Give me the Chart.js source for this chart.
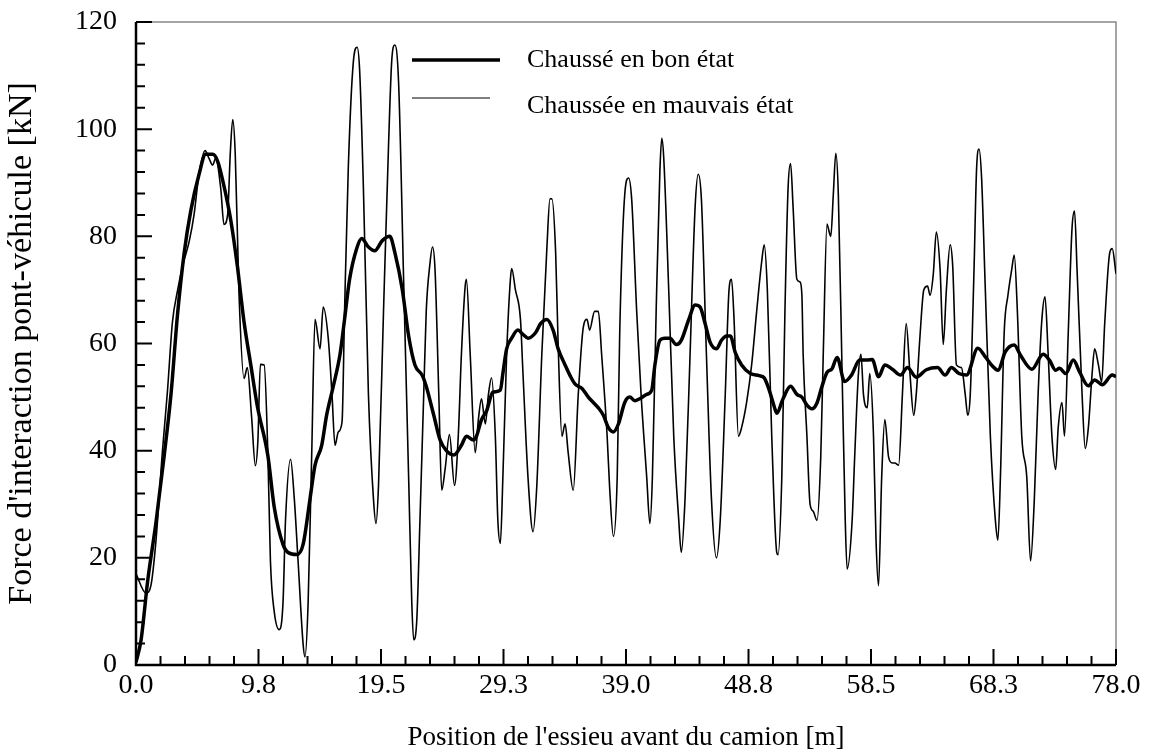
<!DOCTYPE html>
<html>
<head>
  <title>Force d'interaction pont-véhicule</title>
  <meta charset="utf-8">
  <script src="https://cdn.jsdelivr.net/npm/chart.js@4.4.1/dist/chart.umd.min.js"></script>
  <style>
    body { margin: 0; background: #fff; }
    #wrap { width: 1151px; height: 756px; }
  </style>
</head>
<body>
  <div id="wrap"><canvas id="force-chart" width="1151" height="756"></canvas></div>

  <script>
    // Chaussé en bon état (thick line)
    const goodX = [0, 0.4, 0.93, 1.6, 2.25, 2.8, 3.3, 3.84, 4.37, 5.0, 5.55, 6.1, 6.5, 7.0, 7.55, 8.07, 8.6, 9.13, 9.66,
      10.5, 11.0, 11.7, 12.1, 12.8, 13.3, 13.85, 14.25, 14.78, 15.17, 15.7, 16.24, 16.6, 17.0, 17.56, 17.96, 18.5, 19.0, 19.6,
      20.2, 20.6, 21.2, 21.7, 22.2, 22.8, 23.1, 23.7, 24.2, 24.7, 25.3, 25.9, 26.3, 26.85, 27.1, 27.5, 27.9, 28.4, 29.0, 29.2,
      29.5, 29.9, 30.4, 30.8, 31.2, 31.8, 32.2, 32.7, 33.2, 33.6, 34.15, 34.55, 34.95, 35.5, 36.0, 36.4, 36.8, 37.2, 37.6, 38.0,
      38.4, 38.9, 39.3, 39.7, 40.1, 40.65, 41.05, 41.3, 41.7, 42.1, 42.5, 43.0, 43.4, 44.0, 44.5, 44.9, 45.3, 45.7, 46.2, 46.6,
      47.0, 47.3, 47.7, 48.2, 48.9, 49.6, 50.0, 50.4, 50.8, 51.0, 51.5, 52.1, 52.6, 53.0, 53.4, 53.8, 54.2, 54.6, 55.0, 55.4,
      55.8, 56.4, 56.95, 57.6, 58.2, 58.6, 59.1, 59.6, 60.2, 60.85, 61.4, 62.1, 62.9, 63.8, 64.4, 64.9, 65.5, 66.1, 67.0, 67.6,
      68.2, 68.6, 69.2, 69.9, 70.4, 71.3, 72.2, 72.7, 73.2, 73.5, 74.0, 74.6, 75.1, 75.8, 76.3, 76.9, 77.7, 78.0];
    const goodY = [0.5, 4.6, 15.7, 26.8, 39.2, 50.9, 65.3, 77, 84.9, 91.4, 95.3, 95.3, 94, 89.4, 82.9, 74.4, 64, 56.1, 48.3,
      39, 29.5, 22.5, 21, 20.6, 22.5, 31, 37.3, 41, 46.6, 52, 58, 64.5, 72, 77.7, 79.6, 78, 77.3, 79.2,
      80, 77, 70, 61.4, 56, 54, 52, 46.6, 42, 40, 39.2, 41, 42.7, 42, 42.7, 45.8, 47.4, 50.9, 51.3, 54.4,
      59, 61, 62.5, 61.7, 61, 62, 63.7, 64.5, 62.5, 59, 56, 54, 52.4, 51.6, 50, 49, 48, 46.6, 44.3, 43.5,
      45, 49, 50, 49.3, 49.7, 50.5, 51.3, 56, 60.6, 61, 61, 59.8, 60.6, 64.5, 67.2, 66.8, 63.7, 60.2, 59, 60.6,
      61.4, 61.4, 58.3, 56, 54.4, 54, 53.6, 51.3, 48.2, 47, 49.7, 52, 50.5, 50, 48.5, 47.8, 48.9, 52, 54.6, 55.3,
      57.4, 52.9, 54.1, 56.9, 56.9, 57, 53.8, 56, 55.2, 54.1, 55.5, 53.7, 55.1, 55.5, 54.1, 55.5, 54.4, 54.1, 59.1, 57.5,
      55.7, 55, 58.5, 59.7, 57.8, 55.2, 58, 56.9, 55, 55.4, 54.4, 56.9, 54.7, 52.1, 53.2, 52.3, 54.1, 53.8];

    // Chaussée en mauvais état (thin line)
    const badX = [0, 0.8, 1.2, 1.6, 2.1, 2.5, 2.9, 3.3, 3.7, 4.23, 4.63, 5.0, 5.5, 5.8, 6.1, 6.35, 6.75, 7.0, 7.3, 7.5, 7.7,
      7.9, 8.2, 8.6, 8.86, 9.2, 9.5, 9.7, 9.9, 10.2, 10.5, 10.7, 11.0, 11.4, 11.7, 11.9, 12.3, 12.6, 12.9, 13.3, 13.45, 13.7,
      13.98, 14.25, 14.65, 14.9, 15.3, 15.6, 15.84, 16.1, 16.4, 16.6, 16.9, 17.3, 17.6, 17.8, 18.1, 18.5, 18.9, 19.1, 19.3,
      19.7, 20.1, 20.35, 20.6, 20.9, 21.3, 21.7, 21.95, 22.1, 22.35, 22.6, 22.9, 23.1, 23.4, 23.6, 23.8, 24.1, 24.33, 24.6,
      24.95, 25.35, 25.65, 25.9, 26.2, 26.3, 26.6, 27.0, 27.25, 27.5, 27.8, 28.05, 28.3, 28.6, 28.8, 29.0, 29.2, 29.5, 29.8,
      29.9, 30.2, 30.6, 30.8, 31.2, 31.6, 31.9, 32.3, 32.7, 32.95, 33.1, 33.4, 33.6, 33.9, 34.15, 34.4, 34.8, 35.2, 35.6,
      35.9, 36.1, 36.5, 36.8, 37.06, 37.5, 37.7, 38.0, 38.3, 38.5, 38.9, 39.2, 39.45, 39.85, 40.2, 40.65, 40.9, 41.1, 41.4,
      41.7, 41.85, 42.0, 42.4, 42.8, 43.2, 43.4, 43.7, 44.1, 44.5, 44.75, 45.0, 45.4, 45.8, 46.2, 46.5, 46.9, 47.2, 47.4,
      47.6, 47.95, 48.2, 48.6, 49.0, 49.4, 49.8, 50.0, 50.25, 50.6, 51.0, 51.1, 51.4, 51.65, 51.9, 52.1, 52.3, 52.6, 52.85,
      53.0, 53.1, 53.4, 53.65, 53.9, 54.2, 54.5, 54.7, 55.0, 55.1, 55.3, 55.5, 55.7, 55.9, 56.2, 56.45, 56.6, 57.0, 57.2,
      57.5, 57.7, 57.9, 58.2, 58.4, 58.7, 58.9, 59.1, 59.35, 59.6, 59.9, 60.2, 60.4, 60.7, 61.0, 61.3, 61.6, 61.9, 62.1,
      62.4, 62.7, 63.0, 63.2, 63.46, 63.7, 64.0, 64.25, 64.5, 64.8, 65.0, 65.3, 65.7, 66.0, 66.2, 66.4, 66.7, 66.9, 67.1,
      67.3, 67.6, 68.0, 68.4, 68.6, 68.8, 69.1, 69.4, 69.7, 69.9, 70.15, 70.5, 70.9, 71.2, 71.5, 71.8, 72.1, 72.35, 72.6,
      72.9, 73.2, 73.4, 73.7, 73.9, 74.2, 74.5, 74.7, 74.9, 75.3, 75.55, 75.8, 76.1, 76.3, 76.6, 76.86, 77.1, 77.5, 77.7, 78.0];
    const badY = [17, 13.4, 15, 23.5, 39.8, 51, 64, 69.8, 74.4, 79, 84.2, 91.4, 96, 94.6, 93.3, 94.6, 88.8, 82.2, 84.2, 95.3, 101.8,
      95.3, 69.2, 53.5, 55.5, 46.3, 37.2, 41.8, 56.1, 56, 39, 19.4, 10, 6.6, 11.6, 27, 38.4, 31, 19.4, 3.9, 1.5, 11.6,
      38.8, 64.5, 59, 66.8, 61, 50.5, 41, 43.5, 45.4, 66, 93, 112.6, 115.3, 111, 89, 50.5, 31, 26.4, 33.4,
      66, 97, 112.6, 115.7, 108.7, 72, 35, 11.6, 4.7, 8.5, 27, 50.5, 66, 75, 78, 73.8, 50.5, 32.6, 36.5,
      43, 33.5, 42.7, 58, 70.7, 72, 58, 39.6, 45.8, 49.7, 45, 50.5, 53.6, 42.7, 27, 22.7, 35, 58, 72,
      74, 70, 64.5, 54.4, 35, 24.9, 33.4, 58, 77.7, 87, 87, 77, 59.8, 42.7, 45, 39.6, 32.6, 50.5, 63,
      64.5, 62.5, 66, 66, 58, 42.7, 33, 24, 35, 62, 87.8, 90.9, 87, 66, 50.5, 35, 26.4, 35, 66,
      92.4, 98.3, 94.8, 70, 42.7, 27, 21, 31, 58, 85.4, 91.6, 87, 58, 31, 20, 27, 50.5, 70, 72,
      64.5, 42.7, 44.3, 49, 56, 66, 75.3, 78.4, 70, 42.7, 21, 20.6, 35, 66, 89, 93.6, 85.4, 72, 71.5,
      69, 58, 42.7, 30, 28.7, 27, 38.8, 58, 82.3, 81.5, 80, 87.8, 95.5, 87.8, 54.4, 27, 17.9, 27, 38.8,
      54.4, 58, 50.5, 48, 54.4, 42.7, 23.3, 14.8, 35, 45.8, 38.8, 37.7, 37.7, 37.3, 50.5, 63.7, 54.4, 46.6, 50.5,
      61.4, 70, 70.7, 69, 73, 80.8, 73.8, 59.8, 70, 78.4, 74.6, 56, 55.5, 50.5, 46.6, 50.5, 73.8, 92.4, 96.3,
      91, 70, 42.7, 27, 23.3, 35, 62, 69, 73.8, 76.5, 66, 42.7, 35, 19.4, 31, 50.5, 64.5, 68.7, 58,
      42.7, 36.5, 44.3, 49, 42.7, 62, 81.5, 84.7, 73.8, 50.5, 40.4, 44.3, 54.4, 59, 56, 52.8, 63.7, 76.9, 77.7, 73];

    const xTickValues = [0, 9.75, 19.5, 29.25, 39, 48.75, 58.5, 68.25, 78];
    const xTickLabels = ['0.0', '9.8', '19.5', '29.3', '39.0', '48.8', '58.5', '68.3', '78.0'];
    const xMinorStep = 1.95;
    const yMajorStep = 20;
    const yMinorStep = 4;

    const serif = "'Liberation Serif', 'Times New Roman', serif";

    // inward tick marks, frame and legend drawn on the canvas
    const framePlugin = {
      id: 'frame',
      beforeDatasetsDraw(chart) {
        const ctx = chart.ctx;
        const a = chart.chartArea;
        const xs = chart.scales.x;
        const ys = chart.scales.y;
        ctx.save();
        ctx.strokeStyle = '#888';
        ctx.lineWidth = 1.5;
        ctx.beginPath();
        ctx.moveTo(a.left, a.top); ctx.lineTo(a.right, a.top); ctx.lineTo(a.right, a.bottom);
        ctx.stroke();
        ctx.strokeStyle = '#000';
        ctx.lineWidth = 2;
        ctx.beginPath();
        for (let i = 0; i * xMinorStep <= 78.001; i++) {
          const px = xs.getPixelForValue(i * xMinorStep);
          const len = i % 5 === 0 ? 16 : 9;
          ctx.moveTo(px, a.bottom); ctx.lineTo(px, a.bottom - len);
        }
        for (let v = 0; v <= 120; v += yMinorStep) {
          const py = ys.getPixelForValue(v);
          const len = v % yMajorStep === 0 ? 16 : 9;
          ctx.moveTo(a.left, py); ctx.lineTo(a.left + len, py);
        }
        ctx.stroke();
        ctx.lineWidth = 2.5;
        ctx.beginPath();
        ctx.moveTo(a.left, a.top); ctx.lineTo(a.left, a.bottom); ctx.lineTo(a.right, a.bottom);
        ctx.stroke();
        ctx.restore();
      },
      afterDraw(chart) {
        const ctx = chart.ctx;
        ctx.save();
        ctx.strokeStyle = '#000';
        ctx.lineWidth = 3.5;
        ctx.beginPath(); ctx.moveTo(412, 60); ctx.lineTo(500, 60); ctx.stroke();
        ctx.lineWidth = 1;
        ctx.beginPath(); ctx.moveTo(412, 98); ctx.lineTo(490, 98); ctx.stroke();
        ctx.fillStyle = '#000';
        ctx.font = '26px ' + serif;
        ctx.textBaseline = 'alphabetic';
        ctx.fillText(chart.data.datasets[0].label, 527, 67);
        ctx.fillText(chart.data.datasets[1].label, 527, 113);
        ctx.restore();
      }
    };

    new Chart(document.getElementById('force-chart').getContext('2d'), {
      type: 'line',
      data: {
        datasets: [
          { label: 'Chaussé en bon état', data: goodX.map((x, i) => ({ x, y: goodY[i] })),
            borderColor: '#000', borderWidth: 3.5, pointRadius: 0, cubicInterpolationMode: 'monotone' },
          { label: 'Chaussée en mauvais état', data: badX.map((x, i) => ({ x, y: badY[i] })),
            borderColor: '#000', borderWidth: 1.6, pointRadius: 0, cubicInterpolationMode: 'monotone' }
        ]
      },
      options: {
        responsive: false,
        animation: false,
        layout: { padding: { left: 0, top: 22, right: 35, bottom: 0 } },
        plugins: { legend: { display: false }, tooltip: { enabled: false } },
        scales: {
          x: {
            type: 'linear', min: 0, max: 78,
            grid: { display: false, drawTicks: false }, border: { display: false },
            afterBuildTicks: s => { s.ticks = xTickValues.map(v => ({ value: v })); },
            afterFit: s => { s.height = 91; s.paddingLeft = 0; s.paddingRight = 0; },
            ticks: { color: '#000', padding: 4, maxRotation: 0, autoSkip: false,
              font: { family: serif, size: 28 }, callback: (v, i) => xTickLabels[i] },
            title: { display: true, text: "Position de l'essieu avant du camion [m]", color: '#000',
              font: { family: serif, size: 27 }, padding: { top: 0, bottom: 2 } }
          },
          y: {
            min: 0, max: 120,
            grid: { display: false, drawTicks: false }, border: { display: false },
            afterFit: s => { s.width = 136; s.paddingTop = 0; s.paddingBottom = 0; },
            ticks: { stepSize: yMajorStep, color: '#000', padding: 19, font: { family: serif, size: 28 } },
            title: { display: true, text: "Force d'interaction pont-véhicule [kN]", color: '#000',
              font: { family: serif, size: 34 }, padding: { top: 2, bottom: 0 } }
          }
        }
      },
      plugins: [framePlugin]
    });
  </script>
</body>
</html>
